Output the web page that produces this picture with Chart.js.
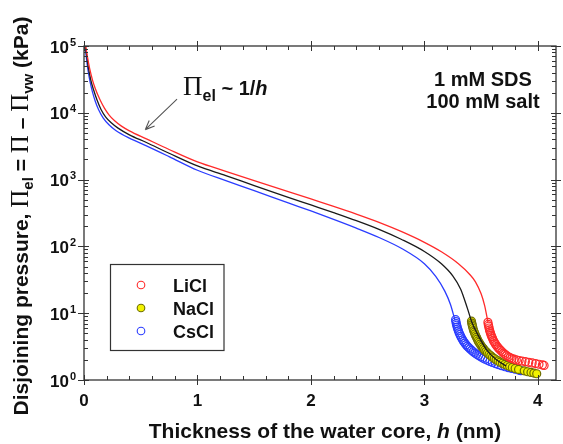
<!DOCTYPE html>
<html lang="en">
<head>
<meta charset="UTF-8">
<title>Disjoining pressure vs. thickness of the water core</title>
<script src="https://cdn.jsdelivr.net/npm/chart.js"></script>
<style>
  html, body { margin: 0; padding: 0; background: #fff; }
  #grafico { display: block; }
</style>
</head>
<body>
<canvas id="grafico" width="563" height="444"></canvas>
<script>
// Fitted curves: h (nm) and disjoining pressure (kPa)
const hLiClFit = [0.015, 0.03, 0.05, 0.075, 0.1, 0.14, 0.18, 0.22, 0.27, 0.33, 0.4, 0.55, 0.75, 1.0, 1.25, 1.5, 1.8, 2.0, 2.2, 2.4, 2.6, 2.8, 3.0, 3.15, 3.3, 3.4, 3.45, 3.5, 3.53, 3.56];
const piLiClFit = [100000, 69200, 45700, 30900, 22900, 15800, 11750, 9330, 7590, 6310, 5370, 4070, 2820, 1840, 1330, 966, 661, 513, 398, 305, 229, 166, 115, 83, 55, 38, 29.5, 19.5, 13.2, 7.4];

const hNaClFit = [0.012, 0.025, 0.04, 0.06, 0.085, 0.115, 0.15, 0.19, 0.24, 0.3, 0.4, 0.55, 0.75, 1.0, 1.25, 1.5, 1.8, 2.0, 2.2, 2.4, 2.6, 2.8, 3.0, 3.15, 3.25, 3.32, 3.38, 3.42, 3.47, 3.55, 3.63, 3.72];
const piNaClFit = [100000, 69200, 45700, 30900, 21900, 15500, 11200, 8710, 7080, 5890, 4680, 3590, 2480, 1600, 1150, 813, 543, 417, 320, 243, 180, 127, 84, 55, 36.3, 22.9, 11.7, 7.2, 4.8, 2.8, 2.04, 1.62];

const hCsClFit = [0.01, 0.02, 0.035, 0.055, 0.075, 0.1, 0.13, 0.17, 0.22, 0.28, 0.4, 0.55, 0.75, 1.0, 1.25, 1.5, 1.8, 2.0, 2.2, 2.4, 2.6, 2.8, 3.0, 3.1, 3.18, 3.23, 3.27];
const piCsClFit = [100000, 69200, 43700, 28200, 20400, 14800, 11000, 8320, 6610, 5430, 4170, 3200, 2210, 1380, 966, 684, 447, 339, 254, 188, 136, 93, 55, 35.5, 21.4, 13.5, 7.8];

// Measured points
const hLiCl = [3.560, 3.563, 3.567, 3.570, 3.574, 3.578, 3.583, 3.588, 3.594, 3.600, 3.607, 3.614, 3.622, 3.630, 3.640, 3.650, 3.660, 3.672, 3.684, 3.696, 3.710, 3.724, 3.740, 3.756, 3.772, 3.790, 3.810, 3.835, 3.860, 3.890, 3.920, 3.950, 3.980, 4.010, 4.040, 4.055];
const piLiCl = [7.3, 6.8, 6.4, 6.0, 5.6, 5.3, 5.0, 4.7, 4.45, 4.2, 3.95, 3.75, 3.55, 3.38, 3.2, 3.05, 2.92, 2.78, 2.65, 2.53, 2.42, 2.32, 2.23, 2.16, 2.1, 2.05, 2.0, 1.96, 1.92, 1.88, 1.84, 1.8, 1.76, 1.72, 1.68, 1.65];

const hNaCl = [3.415, 3.418, 3.421, 3.425, 3.429, 3.434, 3.440, 3.446, 3.452, 3.459, 3.466, 3.474, 3.482, 3.491, 3.500, 3.510, 3.520, 3.531, 3.543, 3.556, 3.570, 3.585, 3.600, 3.616, 3.632, 3.650, 3.668, 3.688, 3.708, 3.730, 3.752, 3.775, 3.800, 3.830, 3.880, 3.910, 3.940, 3.965, 3.990];
const piNaCl = [7.6, 7.1, 6.7, 6.3, 5.9, 5.5, 5.2, 4.9, 4.6, 4.35, 4.1, 3.85, 3.65, 3.45, 3.27, 3.1, 2.95, 2.8, 2.66, 2.53, 2.41, 2.3, 2.19, 2.1, 2.01, 1.93, 1.85, 1.78, 1.71, 1.65, 1.59, 1.54, 1.49, 1.44, 1.37, 1.33, 1.3, 1.27, 1.24];

const hCsCl = [3.275, 3.278, 3.281, 3.285, 3.289, 3.294, 3.300, 3.306, 3.313, 3.320, 3.328, 3.337, 3.346, 3.356, 3.367, 3.378, 3.390, 3.403, 3.416, 3.430, 3.445, 3.461, 3.478, 3.496, 3.515, 3.535, 3.556, 3.578, 3.600, 3.625, 3.650, 3.680, 3.710, 3.740, 3.770, 3.800, 3.830, 3.850];
const piCsCl = [8.0, 7.5, 7.0, 6.6, 6.2, 5.8, 5.45, 5.1, 4.8, 4.5, 4.25, 4.0, 3.78, 3.57, 3.38, 3.21, 3.06, 2.91, 2.78, 2.65, 2.53, 2.42, 2.32, 2.22, 2.13, 2.05, 1.97, 1.9, 1.83, 1.76, 1.7, 1.64, 1.58, 1.53, 1.49, 1.45, 1.41, 1.38];

const salts = ['LiCl', 'NaCl', 'CsCl'];
const xTicks = [0, 1, 2, 3, 4];
const yTicks = [1, 10, 100, 1000, 10000, 100000];

const SANS = '"Liberation Sans", Arial, sans-serif';
const SERIF = '"Liberation Serif", "Times New Roman", serif';

function pares(xs, ys) {
  return xs.map((x, i) => ({ x: x, y: ys[i] }));
}

// draws a run of text pieces (font / vertical shift) starting at x
function textoRico(ctx, partes, x, y) {
  let cx = x;
  partes.forEach(p => {
    ctx.font = p.font;
    ctx.fillText(p.t, cx, y + (p.dy || 0));
    cx += ctx.measureText(p.t).width;
  });
  return cx;
}
function larguraRica(ctx, partes) {
  let w = 0;
  partes.forEach(p => { ctx.font = p.font; w += ctx.measureText(p.t).width; });
  return w;
}

const estilos = {
  LiCl: { line: '#ff2a2a', border: '#ff2a2a', fill: 'rgba(255,255,255,0)' },
  NaCl: { line: '#1a1a1a', border: '#6e6e00', fill: '#f2f200' },
  CsCl: { line: '#2a3cff', border: '#2a3cff', fill: 'rgba(255,255,255,0)' }
};

// Frame, ticks, labels, legend and annotations
const molduraEixos = {
  id: 'molduraEixos',
  afterDatasetsDraw(chart) {
    const ctx = chart.ctx;
    const a = chart.chartArea;
    const sx = chart.scales.x;
    const sy = chart.scales.y;
    ctx.save();
    ctx.strokeStyle = '#333';
    ctx.lineWidth = 1.3;
    ctx.strokeRect(a.left, a.top, a.right - a.left, a.bottom - a.top);

    ctx.lineWidth = 1;
    ctx.beginPath();
    // x ticks: majors cross the frame, minors point inward
    for (let v = 0; v <= sx.max + 1e-9; v += 0.2) {
      const vv = Math.round(v * 10) / 10;
      const px = Math.round(sx.getPixelForValue(vv)) + 0.5;
      const major = Math.abs(vv - Math.round(vv)) < 1e-6;
      if (major) {
        ctx.moveTo(px, a.bottom - 5); ctx.lineTo(px, a.bottom + 5);
        ctx.moveTo(px, a.top - 5); ctx.lineTo(px, a.top + 5);
      } else {
        ctx.moveTo(px, a.bottom); ctx.lineTo(px, a.bottom - 4);
        ctx.moveTo(px, a.top); ctx.lineTo(px, a.top + 4);
      }
    }
    // y ticks on the log axis
    yTicks.forEach((d, i) => {
      const py = Math.round(sy.getPixelForValue(d)) + 0.5;
      ctx.moveTo(a.left - 6, py); ctx.lineTo(a.left + 5, py);
      ctx.moveTo(a.right - 5, py); ctx.lineTo(a.right + 5, py);
      if (i < yTicks.length - 1) {
        for (let k = 2; k <= 9; k++) {
          const pm = Math.round(sy.getPixelForValue(d * k)) + 0.5;
          ctx.moveTo(a.left, pm); ctx.lineTo(a.left + 4, pm);
          ctx.moveTo(a.right, pm); ctx.lineTo(a.right - 4, pm);
        }
      }
    });
    ctx.stroke();

    ctx.fillStyle = '#111';
    // x tick labels
    ctx.font = 'bold 17px ' + SANS;
    ctx.textAlign = 'center';
    ctx.textBaseline = 'alphabetic';
    xTicks.forEach(v => {
      ctx.fillText(String(v), sx.getPixelForValue(v), a.bottom + 26);
    });

    // y tick labels 10^n
    ctx.textAlign = 'left';
    yTicks.forEach(d => {
      const py = sy.getPixelForValue(d);
      const exp = String(Math.round(Math.log10(d)));
      const partes = [
        { t: '10', font: 'bold 17px ' + SANS },
        { t: exp, font: 'bold 11px ' + SANS, dy: -7 }
      ];
      const w = larguraRica(ctx, partes) + 1;
      const x0 = a.left - 8 - w;
      ctx.font = partes[0].font;
      ctx.fillText('10', x0, py + 6.5);
      const w10 = ctx.measureText('10').width;
      ctx.font = partes[1].font;
      ctx.fillText(exp, x0 + w10 + 1, py - 0.5);
    });

    // x title
    const tituloX = [
      { t: 'Thickness of the water core, ', font: 'bold 21px ' + SANS },
      { t: 'h', font: 'italic bold 21px ' + SANS },
      { t: ' (nm)', font: 'bold 21px ' + SANS }
    ];
    const wx = larguraRica(ctx, tituloX);
    textoRico(ctx, tituloX, 325 - wx / 2, 438);

    // y title, rotated
    const tituloY = [
      { t: 'Disjoining pressure, ', font: 'bold 21px ' + SANS },
      { t: '\u03A0', font: '25px ' + SERIF },
      { t: 'el', font: 'bold 15px ' + SANS, dy: 5 },
      { t: ' = ', font: 'bold 21px ' + SANS },
      { t: '\u03A0', font: '25px ' + SERIF },
      { t: ' \u2013 ', font: 'bold 21px ' + SANS },
      { t: '\u03A0', font: '25px ' + SERIF },
      { t: 'vw', font: 'bold 15px ' + SANS, dy: 5 },
      { t: ' (kPa)', font: 'bold 21px ' + SANS }
    ];
    const wy = larguraRica(ctx, tituloY);
    ctx.save();
    ctx.translate(20, 216);
    ctx.rotate(-Math.PI / 2);
    textoRico(ctx, tituloY, -wy / 2, 7.5);
    ctx.restore();

    // condition label
    ctx.textAlign = 'center';
    ctx.font = 'bold 20px ' + SANS;
    ctx.fillText('1 mM SDS', 483, 86);
    ctx.fillText('100 mM salt', 483, 108);
    ctx.textAlign = 'left';

    // 1/h annotation with arrow
    const ax0 = sx.getPixelForValue(0.82), ay0 = sy.getPixelForValue(16000);
    const ax1 = sx.getPixelForValue(0.54), ay1 = sy.getPixelForValue(5600);
    ctx.strokeStyle = '#555';
    ctx.lineWidth = 1.1;
    ctx.beginPath();
    ctx.moveTo(ax0, ay0); ctx.lineTo(ax1, ay1);
    const ang = Math.atan2(ay1 - ay0, ax1 - ax0);
    const L = 10;
    ctx.moveTo(ax1, ay1);
    ctx.lineTo(ax1 - L * Math.cos(ang - 0.4), ay1 - L * Math.sin(ang - 0.4));
    ctx.moveTo(ax1, ay1);
    ctx.lineTo(ax1 - L * Math.cos(ang + 0.4), ay1 - L * Math.sin(ang + 0.4));
    ctx.stroke();
    textoRico(ctx, [
      { t: '\u03A0', font: '27px ' + SERIF },
      { t: 'el', font: 'bold 16px ' + SANS, dy: 6 },
      { t: ' ~ 1/', font: 'bold 20px ' + SANS },
      { t: 'h', font: 'italic bold 20px ' + SANS }
    ], 183, 95);

    // legend box
    ctx.strokeStyle = '#333';
    ctx.lineWidth = 1.2;
    ctx.strokeRect(110.5, 264.5, 113.5, 86);
    salts.forEach((s, i) => {
      const ly = 285 + i * 23;
      ctx.beginPath();
      ctx.arc(141, ly, 3.8, 0, Math.PI * 2);
      ctx.fillStyle = estilos[s].fill === 'rgba(255,255,255,0)' ? '#fff' : estilos[s].fill;
      ctx.fill();
      ctx.lineWidth = 1.1;
      ctx.strokeStyle = estilos[s].border;
      ctx.stroke();
      ctx.fillStyle = '#111';
      ctx.font = 'bold 18px ' + SANS;
      ctx.fillText(s, 173, ly + 6.5);
    });
    ctx.restore();
  }
};

function curva(xs, ys, cor) {
  return {
    type: 'line',
    data: pares(xs, ys),
    borderColor: cor,
    borderWidth: 1.3,
    pointRadius: 0,
    fill: false,
    cubicInterpolationMode: 'monotone',
    order: 0
  };
}
function pontos(xs, ys, s) {
  return {
    type: 'scatter',
    data: pares(xs, ys),
    pointStyle: 'circle',
    pointRadius: 4,
    pointBorderWidth: 1.2,
    borderColor: estilos[s].border,
    backgroundColor: estilos[s].fill,
    order: 1
  };
}

new Chart(document.getElementById('grafico'), {
  type: 'scatter',
  data: {
    datasets: [
      curva(hLiClFit, piLiClFit, estilos.LiCl.line),
      curva(hNaClFit, piNaClFit, estilos.NaCl.line),
      curva(hCsClFit, piCsClFit, estilos.CsCl.line),
      pontos(hLiCl, piLiCl, 'LiCl'),
      pontos(hNaCl, piNaCl, 'NaCl'),
      pontos(hCsCl, piCsCl, 'CsCl')
    ]
  },
  options: {
    responsive: false,
    animation: false,
    devicePixelRatio: 1,
    layout: { padding: { left: 84, right: 7, top: 46, bottom: 64 } },
    plugins: { legend: { display: false }, tooltip: { enabled: false } },
    scales: {
      x: { type: 'linear', min: 0, max: 4.16, display: false },
      y: { type: 'logarithmic', min: 1, max: 100000, display: false }
    }
  },
  plugins: [molduraEixos]
});
</script>
</body>
</html>
